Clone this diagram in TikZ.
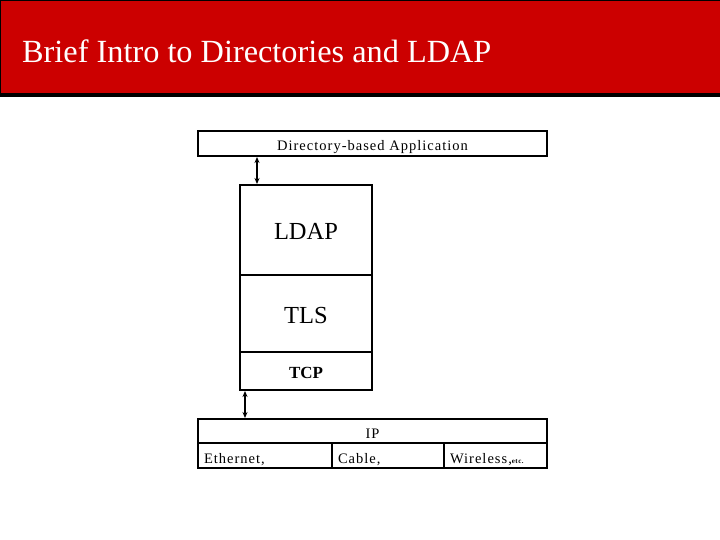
\documentclass[tikz,border=0pt]{standalone}
\usepackage{fontspec}
\setmainfont{Liberation Serif}
\usetikzlibrary{arrows.meta}
\definecolor{slidered}{RGB}{204,0,0}
\begin{document}
\begin{tikzpicture}[x=1pt, y=-1pt, >={Stealth[length=6pt,width=5pt]},
  layer/.style={draw, line width=2pt, inner sep=0pt, align=center, text depth=0pt},
  cell/.style={layer, inner xsep=6pt, align=left, minimum height=25pt},
  small/.style={font=\fontsize{14.5}{16}\selectfont\addfontfeature{LetterSpace=7}, text height=15pt},
  big/.style={font=\fontsize{24.5}{27}\selectfont, text height=19.5pt},
  link/.style={<->, line width=1.8pt}]
 \useasboundingbox (0,0) rectangle (720,540);
 \fill[white] (0,0) rectangle (720,540);
 % header bar
 \fill[black] (0,0) rectangle (720,97);
 \fill[slidered] (1,1) rectangle (720,93);
 \node[anchor=base west, inner sep=0pt, text=white, font=\fontsize{32.3}{35}\selectfont] (title) at (22,63) {Brief Intro to Directories and LDAP};
 % layers
 \node[layer, small, minimum width=349pt, minimum height=25pt] (app) at (372.5,143.5) {Directory-based Application};
 \node[layer, big, minimum width=132pt, minimum height=90pt] (ldap) at (306,230) {LDAP};
 \node[layer, big, minimum width=132pt, minimum height=77pt] (tls) at (306,313.5) {TLS};
 \node[layer, minimum width=132pt, minimum height=38pt, text height=14pt, font=\fontsize{17}{19}\selectfont\bfseries] (tcp) at (306,371) {TCP};
 \node[layer, small, minimum width=349pt, minimum height=24pt] (ip) at (372.5,431) {IP};
 \node[cell, small, text width=122pt] (ether) at (265,455.5) {Ethernet,};
 \node[cell, small, text width=100pt] (cable) at (388,455.5) {Cable,};
 \node[cell, small, text width=91pt] (wless) at (495.5,455.5) {Wireless,{\fontsize{7}{8}\selectfont\bfseries etc.}};
 % links
 \draw[link] ([xshift=18pt]ldap.north west) -- ([xshift=18pt]ldap.north west |- app.south);
 \draw[link] ([xshift=6pt]tcp.south west) -- ([xshift=6pt]tcp.south west |- ip.north);
\end{tikzpicture}
\end{document}
